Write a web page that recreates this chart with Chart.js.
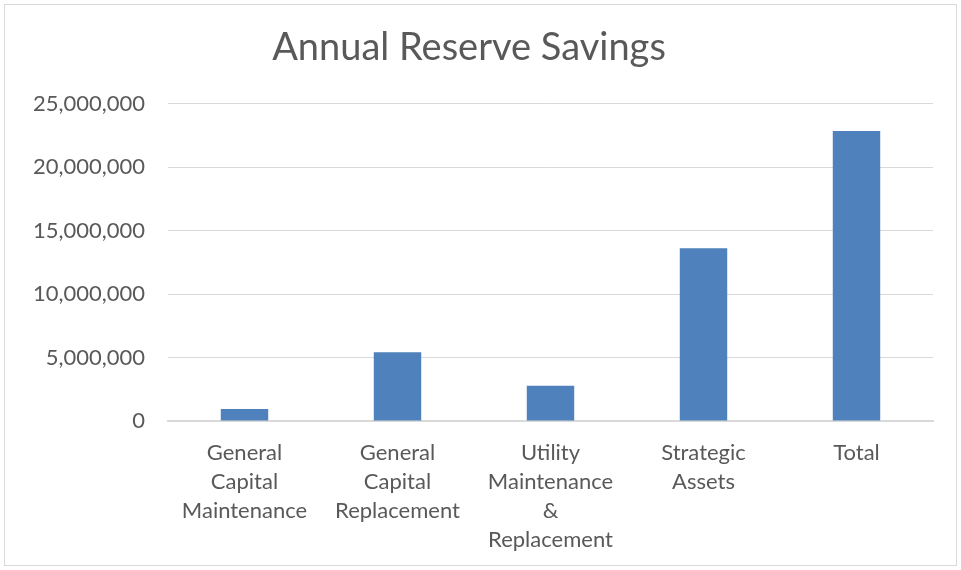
<!DOCTYPE html>
<html>
<head>
<meta charset="utf-8">
<title>Annual Reserve Savings</title>
<script src="https://cdn.jsdelivr.net/npm/chart.js@4/dist/chart.umd.min.js"></script>
<style>
    body { margin: 0; background: #ffffff; }
    .chart-box {
        position: absolute;
        left: 4px;
        top: 4px;
        width: 951px;
        height: 560px;
        border: 1px solid #d9d9d9;
    }
</style>
</head>
<body>
<div class="chart-box">
    <canvas id="savingsChart"></canvas>
</div>
<script>
// категории и значения (долл.)
const categories = [
    ["General", "Capital", "Maintenance"],
    ["General", "Capital", "Replacement"],
    ["Utility", "Maintenance", "&", "Replacement"],
    ["Strategic", "Assets"],
    ["Total"]
];
const savings = [950000, 5420000, 2780000, 13600000, 22850000];
const yTicks = [0, 5000000, 10000000, 15000000, 20000000, 25000000];

document.addEventListener("DOMContentLoaded", function () {

    const textColor = "#595959";
    const gridColor = "#d9d9d9";

    Chart.defaults.font.family = "Lato, 'Open Sans', sans-serif";
    Chart.defaults.color = textColor;

    const ctx = document.getElementById("savingsChart").getContext("2d");

    window.myChart = new Chart(ctx, {
        type: "bar",
        data: {
            labels: categories,
            datasets: [{
                label: "Annual Reserve Savings",
                data: savings,
                backgroundColor: "#4f81bd",
                borderWidth: 0,
                categoryPercentage: 1,
                barPercentage: 0.31
            }]
        },
        options: {
            responsive: true,
            maintainAspectRatio: false,
            animation: false,
            layout: {
                padding: { left: 0, right: 23, top: 0, bottom: 0 }
            },
            plugins: {
                legend: { display: false },
                tooltip: { enabled: false },
                title: {
                    display: true,
                    text: "Annual Reserve Savings",
                    color: textColor,
                    font: { size: 38, weight: "normal", lineHeight: 1.2 },
                    padding: { top: 20, bottom: 33 }
                }
            },
            scales: {
                x: {
                    // фиксированная высота оси под подписи в 4 строки
                    afterFit: function (scale) {
                        scale.height = 144;
                    },
                    grid: { display: false, drawTicks: false },
                    border: { color: gridColor, width: 2 },
                    ticks: {
                        color: textColor,
                        font: { size: 22, lineHeight: 29 / 22 },
                        padding: 17,
                        maxRotation: 0,
                        autoSkip: false
                    }
                },
                y: {
                    min: 0,
                    max: 25000000,
                    afterFit: function (scale) {
                        scale.width = 163;
                    },
                    afterBuildTicks: function (scale) {
                        scale.ticks = yTicks.map(v => ({ value: v }));
                    },
                    grid: { color: gridColor, lineWidth: 1, drawTicks: false },
                    border: { display: false },
                    ticks: {
                        color: textColor,
                        font: { size: 22 },
                        padding: 23,
                        callback: function (value) {
                            return value.toLocaleString("en-US");
                        }
                    }
                }
            }
        }
    });
});
</script>
</body>
</html>
